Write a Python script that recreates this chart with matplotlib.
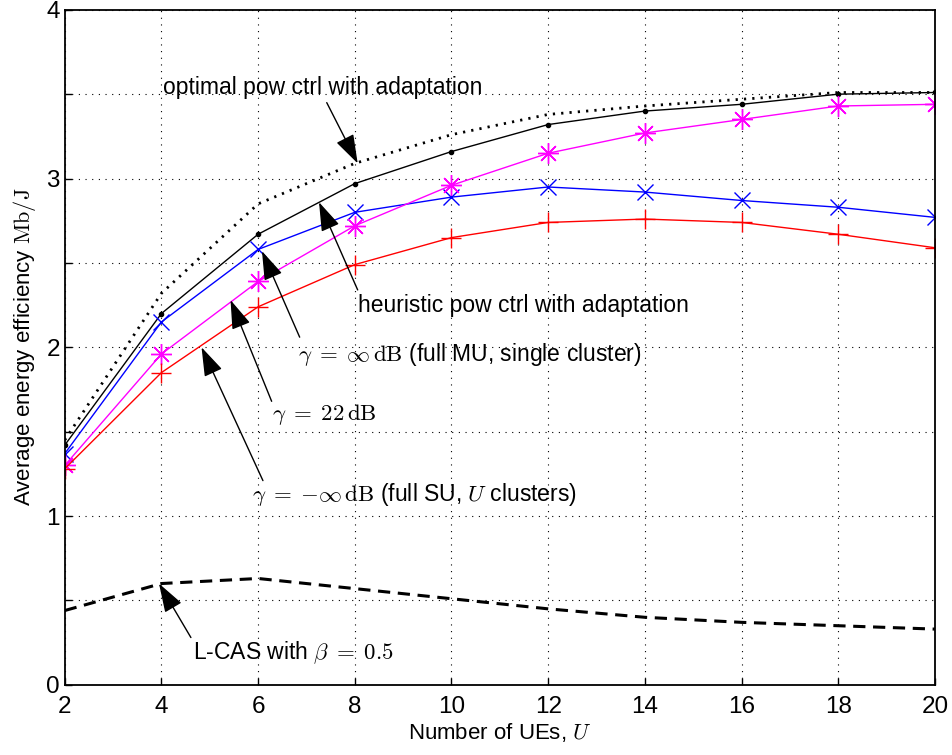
import numpy as np
import matplotlib
matplotlib.use('Agg')
import matplotlib.pyplot as plt

plt.rcParams['font.family'] = ['Liberation Sans', 'DejaVu Sans']
plt.rcParams['mathtext.fontset'] = 'cm'

U = [2, 4, 6, 8, 10, 12, 14, 16, 18, 20]
optimal = [1.45, 2.32, 2.85, 3.09, 3.26, 3.38, 3.43, 3.47, 3.51, 3.51]
heuristic = [1.42, 2.20, 2.67, 2.97, 3.16, 3.32, 3.40, 3.44, 3.50, 3.51]
gamma_inf = [1.37, 2.15, 2.58, 2.80, 2.89, 2.95, 2.92, 2.87, 2.83, 2.77]
gamma_22 = [1.30, 1.96, 2.39, 2.72, 2.96, 3.15, 3.27, 3.35, 3.43, 3.44]
gamma_minf = [1.28, 1.85, 2.24, 2.49, 2.65, 2.74, 2.76, 2.74, 2.67, 2.59]
lcas = [0.44, 0.60, 0.63, 0.57, 0.51, 0.45, 0.40, 0.37, 0.35, 0.33]

fig = plt.figure(figsize=(9.52, 7.55), dpi=100)
ax = fig.add_axes([0.068, 0.093, 0.914, 0.894])

ax.plot(U, optimal, color='k', linestyle=(0, (0.8, 2.2)), linewidth=2.0)
ax.plot(U, heuristic, color='k', marker='.', markersize=6, linewidth=1)
ax.plot(U, gamma_inf, color='b', marker='x', markersize=12, markeredgewidth=1, linewidth=1)
ax.plot(U, gamma_22, color='magenta', marker=(8, 2, 0), markersize=15, markeredgewidth=1, linewidth=1)
ax.plot(U, gamma_minf, color='r', marker='+', markersize=14, markeredgewidth=1, linewidth=1)
ax.plot(U, lcas, color='k', linestyle=(0, (4, 2.5)), linewidth=2.2)

ax.set_xlim(2, 20)
ax.set_ylim(0, 4)
ax.set_xticks(U)
yt = np.arange(0, 4.01, 0.5)
ax.set_yticks(yt)
ax.set_yticklabels([str(int(v)) if v == int(v) else '' for v in yt])
ax.tick_params(direction='in', length=5, labelsize=17.5, width=1)
ax.tick_params(axis='x', pad=8)
ax.grid(True, color='k', linestyle=(0, (1, 5)), linewidth=0.8)
for s in ax.spines.values():
    s.set_linewidth(1.3)

ax.set_xlabel('Number of UEs, $U$', fontsize=16, labelpad=2)
ax.set_ylabel('Average energy efficiency $\\mathrm{Mb/J}$', fontsize=16, labelpad=6)

ap = dict(arrowstyle='-|>,head_length=0.9,head_width=0.3', color='k', lw=1, mutation_scale=20, shrinkA=0, shrinkB=0)
fs = 16.5
ax.annotate('', xy=(8.06, 3.09), xytext=(7.42, 3.45), arrowprops=ap)
ax.text(4.03, 3.54, 'optimal pow ctrl with adaptation', fontsize=fs, va='center')
ax.annotate('', xy=(7.26, 2.86), xytext=(8.06, 2.34), arrowprops=ap)
ax.text(8.06, 2.25, 'heuristic pow ctrl with adaptation', fontsize=fs, va='center')
ax.annotate('', xy=(6.08, 2.57), xytext=(6.86, 2.06), arrowprops=ap)
ax.text(6.82, 1.96, '$\\gamma\\;=\\;\\infty\\,\\mathrm{dB}$ (full MU, single cluster)', fontsize=fs, va='center')
ax.annotate('', xy=(5.43, 2.28), xytext=(6.28, 1.68), arrowprops=ap)
ax.text(6.28, 1.60, '$\\gamma\\;=\\;22\\,\\mathrm{dB}$', fontsize=fs, va='center')
ax.annotate('', xy=(4.83, 2.00), xytext=(6.10, 1.21), arrowprops=ap)
ax.text(5.87, 1.13, '$\\gamma\\;=\\;{-}\\infty\\,\\mathrm{dB}$ (full SU, $U$ clusters)', fontsize=fs, va='center')
ax.annotate('', xy=(3.95, 0.60), xytext=(4.61, 0.28), arrowprops=ap)
ax.text(4.65, 0.19, 'L-CAS with $\\beta\\;=\\;0.5$', fontsize=fs, va='center')

fig.savefig('out.png', dpi=100)
